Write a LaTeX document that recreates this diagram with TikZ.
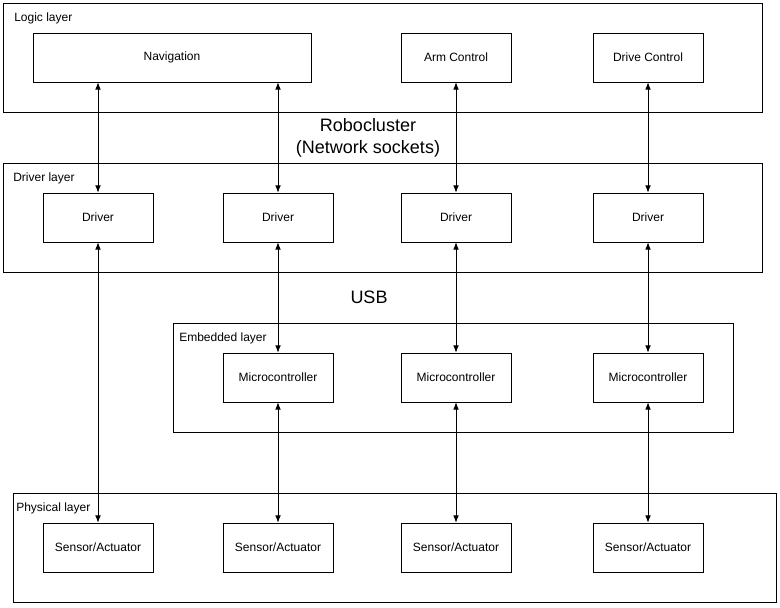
\documentclass[tikz,border=0pt]{standalone}
\usepackage{fontspec}
\setmainfont{Liberation Sans}
\usetikzlibrary{arrows.meta,positioning}
\tikzset{
  layer/.style={draw, line width=0.6pt},
  blk/.style={draw, line width=0.6pt, minimum width=82.5pt, minimum height=36.75pt,
              inner sep=0pt, font=\fontsize{9}{10}\selectfont},
  navb/.style={blk, minimum width=208.5pt},
  ar/.style={{Latex[length=1.9mm,width=1.5mm]}-{Latex[length=1.9mm,width=1.5mm]}, line width=0.6pt},
  tag/.style={font=\fontsize{9}{10}\selectfont, anchor=west, inner sep=0pt},
  lbl/.style={font=\fontsize{13.5}{16.5}\selectfont, align=center},
}
\begin{document}
\begin{tikzpicture}[x=0.75pt, y=-0.75pt]
  \useasboundingbox (0,0) rectangle (780,607);

  % --- layers ---
  \draw[layer] (3,3) rectangle (762,112);
  \node[tag] (logictag) at (14,18) {Logic layer};
  \draw[layer] (3,163) rectangle (762,272);
  \node[tag] (drivertag) at (13,178) {Driver layer};
  \draw[layer] (173,323) rectangle (733,432);
  \node[tag] (embtag) at (179,338) {Embedded layer};
  \draw[layer] (13,493) rectangle (776,602);
  \node[tag] (phystag) at (16,508) {Physical layer};

  % --- logic layer ---
  \node[navb] (nav) at (172,57.5) {Navigation};
  \node[blk] (arm) at (456,57.5) {Arm Control};
  \node[blk] (drive) at (648,57.5) {Drive Control};

  % --- driver, embedded and physical rows ---
  \foreach \n/\x in {1/98, 2/278, 3/456, 4/648}{
    \node[blk] (drv\n) at (\x,217.5) {Driver};
    \node[blk] (sen\n) at (\x,547.5) {Sensor/Actuator};
  }
  \foreach \n/\x in {2/278, 3/456, 4/648}
    \node[blk] (mcu\n) at (\x,377.5) {Microcontroller};

  \node[lbl] (robo) at (368,138) {Robocluster\\(Network sockets)};
  \node[lbl] (usb) at (369,297) {USB};

  % --- links ---
  \draw[ar] (drv1.north |- nav.south) -- (drv1.north);
  \draw[ar] (drv2.north |- nav.south) -- (drv2.north);
  \draw[ar] (arm.south) -- (drv3.north);
  \draw[ar] (drive.south) -- (drv4.north);
  \draw[ar] (drv1.south) -- (sen1.north);
  \foreach \n in {2,3,4}{
    \draw[ar] (drv\n.south) -- (mcu\n.north);
    \draw[ar] (mcu\n.south) -- (sen\n.north);
  }
\end{tikzpicture}
\end{document}
